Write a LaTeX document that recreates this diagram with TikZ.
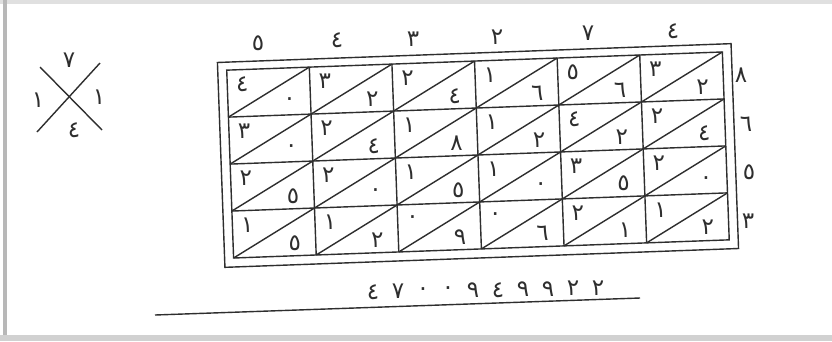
\documentclass[tikz,border=0pt]{standalone}
\usepackage{fontspec}
\newfontfamily\arabicfont[Script=Arabic]{DejaVu Sans}
\newcommand\ard[1]{\ifcase#1 ٠\or ١\or ٢\or ٣\or ٤\or ٥\or ٦\or ٧\or ٨\or ٩\fi}
\definecolor{ink}{HTML}{2E2E2E}
\begin{document}
\begin{tikzpicture}[x=1pt,y=-1pt,
  gridline/.style={draw=ink,line width=1.4pt},
  dig/.style={font=\arabicfont\fontsize{23}{23}\selectfont,text=ink,inner sep=0pt}]
\useasboundingbox (0,0) rectangle (832,341);
% page card
\fill[black!12] (0,0) rectangle (832,4);
\fill[black!28] (3,0) rectangle (7,341);
\fill[black!18] (0,335) rectangle (832,341);
\fill[white] (7,4) rectangle (830,335);

% check cross
\coordinate (c1) at (40,67); \coordinate (c2) at (102,130);
\coordinate (c3) at (100,63); \coordinate (c4) at (37,132);
\draw[gridline] (c1) -- (c2);
\draw[gridline] (c3) -- (c4);
\node[dig] (ct) at (69,60) {\ard7};
\node[dig] (cl) at (38,100) {\ard1};
\node[dig] (cr) at (99,97) {\ard1};
\node[dig] (cb) at (74,130) {\ard4};

% lattice
\begin{scope}[rotate around={2.1:(478,155)}]
  \def\W{82.667}\def\H{47}
  \foreach \i in {0,...,4}{
    \foreach \j in {0,...,6}{
      \coordinate (p-\i-\j) at ({230+\j*\W},{61+\i*\H});
    }
  }
  \coordinate (o1) at (221,53);
  \coordinate (o2) at (735,258);
  \draw[gridline] (o1) rectangle (o2);
  \draw[gridline] (p-0-0) rectangle (p-4-6);
  \foreach \i in {1,2,3}{\draw[gridline] (p-\i-0) -- (p-\i-6);}
  \foreach \j in {1,...,5}{\draw[gridline] (p-0-\j) -- (p-4-\j);}
  \foreach \i [evaluate=\i as \ii using int(\i+1)] in {0,...,3}{
    \foreach \j [evaluate=\j as \jj using int(\j+1)] in {0,...,5}{
      \draw[gridline] (p-\ii-\j) -- (p-\i-\jj);
    }
  }
  \foreach \r/\k/\t/\u in {
    0/0/4/0,0/1/3/2,0/2/2/4,0/3/1/6,0/4/5/6,0/5/3/2,
    1/0/3/0,1/1/2/4,1/2/1/8,1/3/1/2,1/4/4/2,1/5/2/4,
    2/0/2/5,2/1/2/0,2/2/1/5,2/3/1/0,2/4/3/5,2/5/2/0,
    3/0/1/5,3/1/1/2,3/2/0/9,3/3/0/6,3/4/2/1,3/5/1/2}{
    \pgfmathtruncatemacro\rr{\r+1}
    \pgfmathtruncatemacro\kk{\k+1}
    \node[dig] (t-\r-\k) at ([shift={(15,15)}]p-\r-\k) {\ard\t};
    \node[dig] (u-\r-\k) at ([shift={(-21,-13)}]p-\rr-\kk) {\ard\u};
  }
\end{scope}

% multiplicand (top) and multiplier (right)
\node[dig] (m1) at (258,43) {\ard5};
\node[dig] (m2) at (337,40) {\ard4};
\node[dig] (m3) at (413,39) {\ard3};
\node[dig] (m4) at (497,37) {\ard2};
\node[dig] (m5) at (588,33) {\ard7};
\node[dig] (m6) at (673,31) {\ard4};
\node[dig] (n1) at (741,75) {\ard8};
\node[dig] (n2) at (746,124) {\ard6};
\node[dig] (n3) at (749,172) {\ard5};
\node[dig] (n4) at (748,221) {\ard3};

% result
\foreach \d [count=\k from 0] in {4,7,0,0,9,4,9,9,2,2}{
  \node[dig] (r-\k) at ({373+25*\k},{292-0.45*\k}) {\ard\d};
}
\coordinate (u1) at (155,315);
\coordinate (u2) at (640,298);
\draw[gridline] (u1) -- (u2);
\end{tikzpicture}
\end{document}
